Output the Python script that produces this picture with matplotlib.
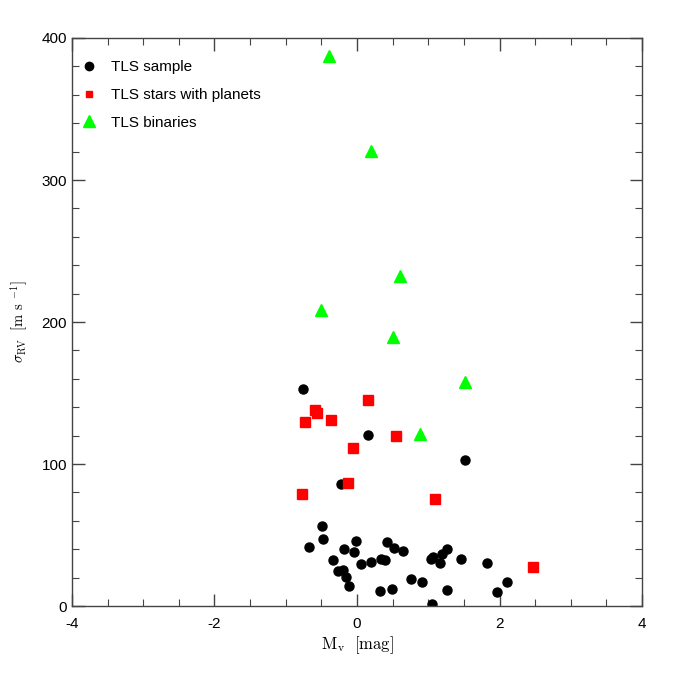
import numpy as np
import matplotlib
matplotlib.use('Agg')
import matplotlib.pyplot as plt
from matplotlib.lines import Line2D
from matplotlib.ticker import MultipleLocator

plt.rcParams['font.family'] = ['Liberation Sans', 'DejaVu Sans']
plt.rcParams['mathtext.fontset'] = 'cm'
plt.rcParams['axes.unicode_minus'] = False

# TLS sample (Mv, sigma_RV)
sample_mv = [-0.49, -0.48, -0.68, -0.18, -0.02, -0.04, -0.33, 0.06, 0.20, 0.34,
             0.40, 0.42, 0.52, 0.64, -0.26, -0.19, -0.16, -0.11, 0.33, 0.49,
             0.76, 0.91, 1.04, 1.06, 1.17, 1.20, 1.27, 1.26, 1.05, 1.46,
             1.83, 1.96, 2.10, -0.76, 0.15, 1.52, -0.22]
sample_rv = [56.1, 47.0, 41.3, 40.1, 46.0, 37.8, 32.4, 29.4, 31.0, 33.3,
             32.2, 44.9, 40.8, 38.7, 24.6, 25.1, 20.4, 14.1, 10.4, 12.2,
             19.0, 17.1, 33.1, 34.7, 30.5, 36.4, 40.4, 11.3, 1.6, 33.1,
             30.1, 10.1, 16.9, 153.0, 120.4, 103.0, 85.7]

# TLS stars with planets
planet_mv = [-0.59, -0.56, -0.73, -0.36, 0.15, 0.55, -0.05, -0.12, -0.77, 1.09, 2.47]
planet_rv = [138.0, 135.7, 129.8, 130.8, 145.1, 119.5, 111.5, 86.8, 78.9, 75.4, 27.7]

# TLS binaries
binary_mv = [-0.39, 0.19, 0.60, -0.50, 0.50, 0.89, 1.52]
binary_rv = [387.0, 320.5, 232.5, 208.6, 189.5, 121.5, 158.0]

fig = plt.figure(figsize=(6.78, 6.78), dpi=100)
ax = fig.add_axes([0.106, 0.106, 0.841, 0.838])

ax.plot(sample_mv, sample_rv, 'o', color='black', markersize=6.5, linestyle='none')
ax.plot(planet_mv, planet_rv, 's', color='#ff0000', markersize=7, linestyle='none')
ax.plot(binary_mv, binary_rv, '^', color='#00ff00', markersize=8.5, linestyle='none')

ax.set_xlim(-4, 4)
ax.set_ylim(0, 400)
ax.xaxis.set_major_locator(MultipleLocator(2))
ax.xaxis.set_minor_locator(MultipleLocator(0.5))
ax.yaxis.set_major_locator(MultipleLocator(100))
ax.yaxis.set_minor_locator(MultipleLocator(20))
ax.tick_params(which='both', direction='in', top=True, right=True,
               color='#444444', labelsize=11)
ax.tick_params(which='major', length=9, width=1)
ax.tick_params(which='minor', length=5, width=0.8)
ax.xaxis.set_tick_params(pad=8)
for s in ax.spines.values():
    s.set_color('#444444')
    s.set_linewidth(1)

ax.set_xlabel(r'$\mathrm{M_v\ \ [mag]}$', fontsize=12, labelpad=2)
ax.set_ylabel(r'$\sigma_{\mathrm{RV}}\ \ [\mathrm{m\ s}\ ^{-1}]$', fontsize=10.5, labelpad=8)

handles = [
    Line2D([], [], marker='o', color='black', linestyle='none', markersize=6),
    Line2D([], [], marker='s', color='#ff0000', linestyle='none', markersize=4.5),
    Line2D([], [], marker='^', color='#00ff00', linestyle='none', markersize=8),
]
ax.legend(handles, ['TLS sample', 'TLS stars with planets', 'TLS binaries'],
          loc='upper left', frameon=False, fontsize=11, handlelength=1.0,
          handletextpad=0.95, labelspacing=0.9, borderaxespad=0.9,
          bbox_to_anchor=(-0.019, 0.996))

fig.savefig('out.png', dpi=100)
